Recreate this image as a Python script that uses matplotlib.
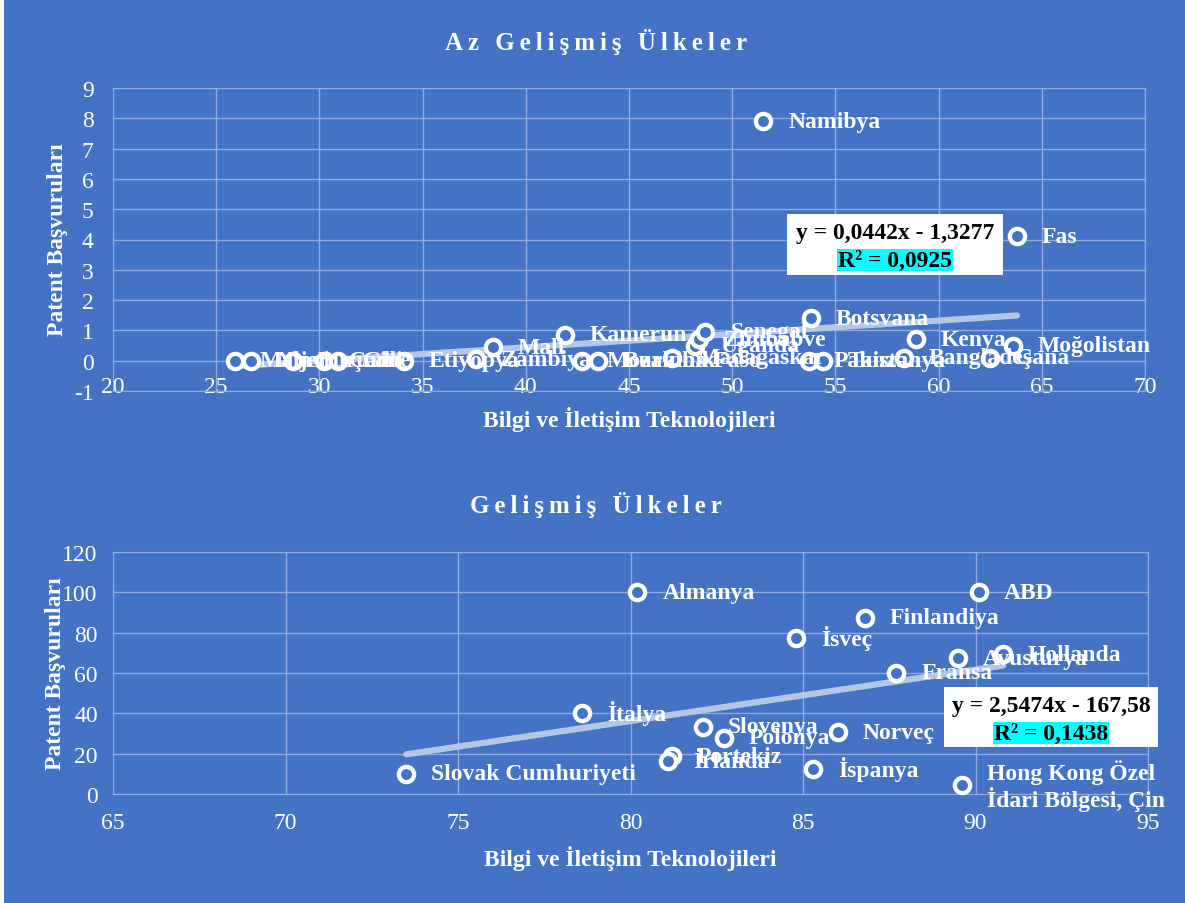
import numpy as np
import matplotlib.pyplot as plt
from matplotlib.patches import Rectangle

plt.rcParams['font.family'] = ['Liberation Serif', 'DejaVu Serif']
plt.rcParams['axes.unicode_minus'] = False

W, H = 1185, 904
BG = '#4472C4'
GRID = '#8FAADC'
TREND = '#B4C7E7'

# Az Gelişmiş Ülkeler
az_names = ['Malavi', 'Nijer', 'Burundi', 'Çad', 'Gine', 'Etiyopya', 'Zambiya', 'Mali',
            'Kamerun', 'Mozambik', 'Burkina Faso', 'Madagaskar', 'Uganda', 'Zimbabve',
            'Senegal', 'Pakistan', 'Tanzanya', 'Botsvana', 'Namibya', 'Bangladeş',
            'Kenya', 'Gana', 'Moğolistan', 'Fas']
az_ict = [25.9, 26.7, 28.7, 30.2, 30.9, 34.1, 37.6, 38.4, 41.9, 42.7, 43.5, 47.1, 48.2,
          48.4, 48.7, 53.7, 54.4, 53.8, 51.5, 58.3, 58.9, 62.5, 63.6, 63.8]
az_patent = [0, 0, 0, 0, 0, 0, 0.05, 0.45, 0.85, 0, 0, 0.1, 0.5, 0.7, 0.95, 0, 0, 1.4,
             7.9, 0.1, 0.7, 0.1, 0.5, 4.1]
az_fit = (0.0442, -1.3277)
az_eq = ['y = 0,0442x - 1,3277', 'R² = 0,0925']

# Gelişmiş Ülkeler
gl_names = ['Almanya', 'ABD', 'Finlandiya', 'İsveç', 'Avusturya', 'Hollanda', 'Fransa',
            'İtalya', 'Slovenya', 'Polonya', 'Norveç', 'Portekiz', 'İrlanda', 'İspanya',
            'Hong Kong Özel\nİdari Bölgesi, Çin', 'Slovak Cumhuriyeti']
gl_ict = [80.2, 90.1, 86.8, 84.8, 89.5, 90.8, 87.7, 78.6, 82.1, 82.7, 86.0, 81.2, 81.1,
          85.3, 89.6, 73.5]
gl_patent = [100, 100, 87.3, 77.5, 67.3, 69.3, 60, 40.2, 33.3, 28, 30.5, 18.8, 16.2,
             12.5, 4.5, 10]
gl_fit = (2.5474, -167.58)
gl_eq = ['y = 2,5474x - 167,58', 'R² = 0,1438']


def px(x, y):
    return x / W, 1 - y / H


fig = plt.figure(figsize=(W / 100, H / 100), dpi=100, facecolor=BG)
fig.patches.append(Rectangle((0, 0), 4 / W, 1, transform=fig.transFigure,
                             facecolor='white', edgecolor='none'))


def panel(box, names, xs, ys, fit, xlim, ylim, xstep, ystep, xpad, ypad):
    l, t, r, b = box
    ax = fig.add_axes([l / W, 1 - b / H, (r - l) / W, (b - t) / H])
    ax.set_facecolor(BG)
    ax.set_xlim(*xlim)
    ax.set_ylim(*ylim)
    ax.set_xticks(np.arange(xlim[0], xlim[1] + 1, xstep))
    ax.set_yticks(np.arange(ylim[0], ylim[1] + 1, ystep))
    ax.grid(color=GRID, lw=1)
    ax.set_axisbelow(True)
    for s in ax.spines.values():
        s.set_color(GRID)
    ax.tick_params(colors='white', labelsize=17, length=0)
    ax.tick_params(axis='x', pad=xpad)
    ax.tick_params(axis='y', pad=ypad)

    xx = np.array([min(xs), max(xs)])
    ax.plot(xx, fit[0] * xx + fit[1], color=TREND, lw=4.5, solid_capstyle='round', zorder=2)
    ax.plot(xs, ys, 'o', ms=11, mfc=BG, mec='white', mew=3.1, zorder=3, clip_on=False)
    for n, x, y in zip(names, xs, ys):
        ax.annotate(n, (x, y), xytext=(18, 0), textcoords='offset points', color='white',
                    fontsize=17, fontweight='bold', va='center', ha='left', zorder=4,
                    annotation_clip=False, linespacing=1.1)
    return ax


ax1 = panel((113, 89, 1145, 392), az_names, az_ict, az_patent, az_fit,
            (20, 70), (-1, 9), 5, 1, -11, 14)
ax2 = panel((113, 553, 1148, 795), gl_names, gl_ict, gl_patent, gl_fit,
            (65, 95), (0, 120), 5, 20, 13, 11)

# titles with letter spacing
fig.text(*px(596, 42), '\u2009'.join('Az Gelişmiş Ülkeler'), color='white', fontsize=18,
         fontweight='bold', ha='center', va='center')
fig.text(*px(596, 505), '\u2009'.join('Gelişmiş Ülkeler'), color='white', fontsize=18,
         fontweight='bold', ha='center', va='center')

# axis titles
for (x, y) in [(629, 420), (630, 859)]:
    fig.text(*px(x, y), 'Bilgi ve İletişim Teknolojileri', color='white', fontsize=17,
             fontweight='bold', ha='center', va='center')
for (x, y) in [(57, 240), (55, 674)]:
    fig.text(*px(x, y), 'Patent Başvuruları', color='white', fontsize=17,
             fontweight='bold', ha='center', va='center', rotation=90)

# trendline equation boxes
for (l, t, r, b), eq in [((787, 215, 1003, 276), az_eq), ((944, 688, 1158, 748), gl_eq)]:
    fig.patches.append(Rectangle(px(l, b), (r - l) / W, (b - t) / H,
                                 transform=fig.transFigure, facecolor='white',
                                 edgecolor='none', zorder=5))
    cx = (l + r) / 2
    fig.text(*px(cx, t + 19), eq[0], color='black', fontsize=17, fontweight='bold',
             ha='center', va='center', zorder=6)
    fig.text(*px(cx, t + 46), eq[1], color='black', fontsize=17, fontweight='bold',
             ha='center', va='center', zorder=6,
             bbox=dict(facecolor='#00FFFF', edgecolor='none', pad=0.5))

fig.savefig('out.png', dpi=100, facecolor=BG)
